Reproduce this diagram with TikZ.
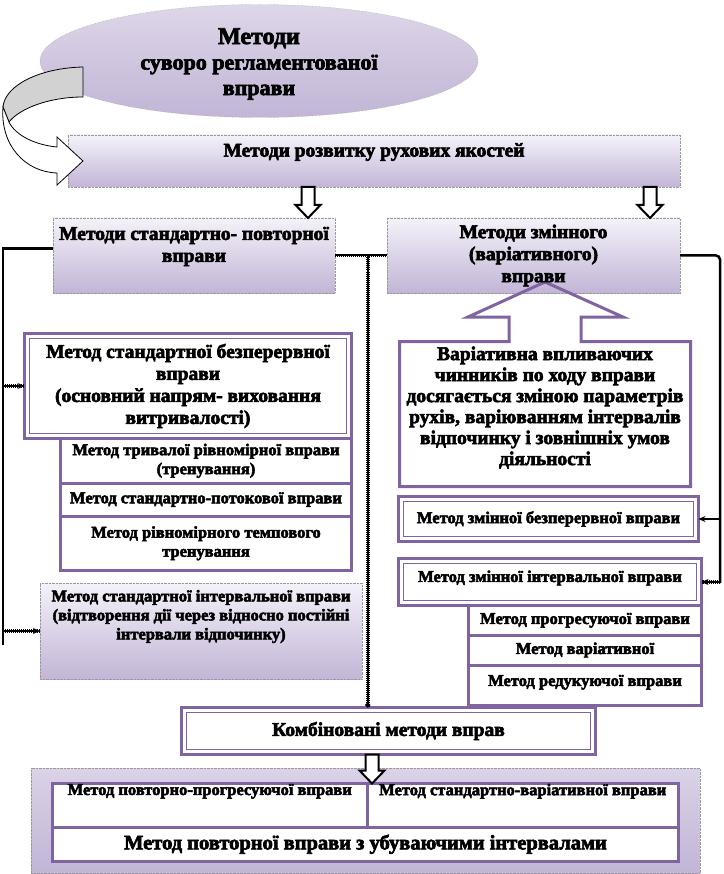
\documentclass[tikz,border=0pt]{standalone}
\usepackage{fontspec}
\setmainfont{Liberation Serif}[BoldFont={Liberation Serif Bold}, BoldFeatures={FakeBold=3}]
\usetikzlibrary{arrows.meta, positioning, shapes.geometric, calc}
\definecolor{mypurple}{RGB}{128,100,162}
\definecolor{mylav}{RGB}{194,181,214}
\definecolor{mylavtop}{RGB}{244,242,249}

\newcommand{\fatdown}[2]{%
  \draw[fatarrow] let \p1=(#1), \p2=(#2) in
    (\x1-6.5pt,\y1) -- (\x1-6.5pt,\y2+13pt) -- (\x1-12.5pt,\y2+13pt) -- (\x1,\y2)
    -- (\x1+12.5pt,\y2+13pt) -- (\x1+6.5pt,\y2+13pt) -- (\x1+6.5pt,\y1) -- cycle;}

\begin{document}
\begin{tikzpicture}[x=1pt, y=-1pt,
    shadedbox/.style={draw=gray!80, densely dotted, top color=mylavtop, bottom color=mylav, inner sep=0pt, outer sep=0pt},
    sglbox/.style={draw=mypurple, line width=3pt, fill=white, inner sep=0pt, outer sep=0pt},
    dblbox/.style={sglbox, path picture={\draw[mypurple, line width=1.2pt]
        ([shift={(5pt,-5pt)}]path picture bounding box.north west) rectangle
        ([shift={(-5pt,5pt)}]path picture bounding box.south east);}},
    t14/.style={font=\bfseries\fontsize{19.5}{22}\selectfont, align=center, inner sep=0pt},
    t12/.style={font=\bfseries\fontsize{16.5}{19}\selectfont, align=center, inner sep=0pt},
    link/.style={line width=2.5pt},
    dotlink/.style={line width=2pt, preaction={draw, -, line width=3.6pt, dash pattern=on 1pt off 1pt}},
    tip/.style={-{Stealth[length=7pt, width=6pt]}},
    fatarrow/.style={draw=black, line width=2pt, fill=white, line join=miter}]
  \useasboundingbox (0,0) rectangle (723,874);

  \node[shadedbox, minimum width=612, minimum height=52,
        label={[t14, yshift=9pt]center:Методи розвитку рухових якостей}] (bar) at (374,161) {};
  \node[shadedbox, ellipse, top color=mylav!55, minimum width=438, minimum height=113,
        label={[font=\bfseries\fontsize{22}{25.5}\selectfont, align=center, yshift=-3pt]center:{{\fontsize{24}{25.5}\selectfont Методи}\\суворо регламентованої\\вправи}}] (ell) at (259,61) {};

  \draw[black, line width=0.8pt, fill=gray!35] (83,67) .. controls (40,68) and (5,85) .. (3,107)
    -- (9,122) .. controls (20,108) and (50,97) .. (83,97) -- cycle;
  \draw[black, line width=0.8pt, fill=white] (3,107) .. controls (0,145) and (25,172) .. (57,173)
    -- (57,185) -- (83,161) -- (57,137) -- (57,147) .. controls (35,145) and (15,135) .. (9,122) -- cycle;

  \node[minimum width=291, minimum height=145, inner sep=0pt, outer sep=0pt] (var) at (545,414) {};
  \path[save path=\varshape] (var.south west) -- (var.north west)
    -- ([xshift=-36pt]var.north) -- ++(0pt,24.5pt) -- ++(-41pt,0pt) -- ([yshift=59.5pt]var.north)
    -- ([shift={(78pt,24.5pt)}]var.north) -- ++(-42pt,0pt) -- ++(0pt,-24.5pt)
    -- (var.north east) -- (var.south east) -- cycle;
  \fill[white, use path=\varshape];

  \node[shadedbox, minimum width=282, minimum height=75,
        label={[t14, yshift=9pt]center:Методи стандартно- повторної\\вправи}] (sp) at (194,255.5) {};
  \node[shadedbox, minimum width=293, minimum height=75] (vp) at (533.5,255.5) {};
  \draw[mypurple, line width=3pt, line join=miter, use path=\varshape];
  \node[t14] (vptext) at (vp.center) {Методи змінного\\(варіативного)\\вправи};
  \node[t14, font=\bfseries\fontsize{19.5}{21}\selectfont] (vartext) at ([yshift=6.5pt]var.center)
    {Варіативна впливаючих\\чинників по ходу вправи\\досягається зміною параметрів\\рухів, варіюванням інтервалів\\відпочинку і зовнішніх умов\\діяльності};

  \coordinate (a1) at (308,0);
  \coordinate (a2) at (650,0);
  \coordinate (a3) at (372,0);
  \fatdown{a1 |- bar.south}{a1 |- sp.north}
  \fatdown{a2 |- bar.south}{a2 |- vp.north}

  \node[dblbox, t14, minimum width=327, minimum height=105] (sb) at (188,386)
    {Метод стандартної безперервної\\вправи\\(основний напрям- виховання\\витривалості)};
  \node[sglbox, t12, minimum width=291, minimum height=44.5, anchor=north east] (s1) at (sb.south east)
    {Метод тривалої рівномірної вправи\\(тренування)};
  \node[sglbox, t12, minimum width=291, minimum height=33, below=0pt of s1] (s2) {Метод стандартно-потокової вправи};
  \node[sglbox, t12, minimum width=291, minimum height=54.5, below=0pt of s2] (s3) {Метод рівномірного темпового\\тренування};
  \node[shadedbox, minimum width=322, minimum height=96,
        label={[t12, yshift=14.5pt]center:Метод стандартної інтервальної вправи\\(відтворення дії через відносно постійні\\інтервали відпочинку)}] (ib) at (201,631) {};

  \node[dblbox, t12, minimum width=300, minimum height=45] (zb) at (548.5,519) {Метод змінної безперервної вправи};
  \node[dblbox, minimum width=303, minimum height=47,
        label={[t12, yshift=4pt]center:Метод змінної інтервальної вправи}] (zi) at (550,582) {};
  \node[sglbox, t12, minimum width=233, minimum height=29.5, anchor=north east] (r1) at (zi.south east) {Метод прогресуючої вправи};
  \node[sglbox, t12, minimum width=233, minimum height=30, below=0pt of r1] (r2) {Метод варіативної};
  \node[sglbox, minimum width=233, minimum height=40.5, below=0pt of r2,
        label={[t12, yshift=3pt]center:Метод редукуючої вправи}] (r3) {};

  \node[dblbox, t14, minimum width=414, minimum height=47] (comb) at (388.5,731) {Комбіновані методи вправ};

  \node[shadedbox, top color=mylav!60, minimum width=669, minimum height=105] (ob) at (365.5,820.5) {};
  \node[sglbox, minimum width=314.5, minimum height=43.5,
        label={[t12, yshift=14pt]center:Метод повторно-прогресуючої вправи}] (ca) at (209.75,805.25) {};
  \node[sglbox, minimum width=311.5, minimum height=43.5, right=0pt of ca,
        label={[t12, yshift=14pt]center:Метод стандартно-варіативної вправи}] (cb) {};
  \node[sglbox, font=\bfseries\fontsize{20.5}{22}\selectfont, minimum width=626, minimum height=34.5, anchor=north west] (cc) at (ca.south west)
    {Метод повторної вправи з убуваючими інтервалами};
  \fatdown{a3 |- comb.south}{a3 |- ca.north}

  \coordinate (lbot) at (3,645);
  \coordinate (rbot) at (720,583);
  \coordinate (jn) at ($(sp.east)!0.63!(vp.west)$);
  \draw[link] ([yshift=7pt]sp.west) -| (lbot);
  \draw[dotlink, tip] (lbot |- sb.west) -- (sb.west);
  \draw[dotlink, tip] (lbot |- ib.west) -- (ib.west);
  \draw[dotlink] (sp.east) -- (vp.west);
  \draw[dotlink, -{Circle[length=5pt]}] (jn) -- (jn |- comb.north);
  \draw[link, rounded corners=4pt] (vp.east) -| (rbot);
  \draw[link, tip] (rbot |- zb.east) -- (zb.east);
  \draw[dotlink, tip] (rbot |- zi.east) -- (zi.east);
\end{tikzpicture}
\end{document}
